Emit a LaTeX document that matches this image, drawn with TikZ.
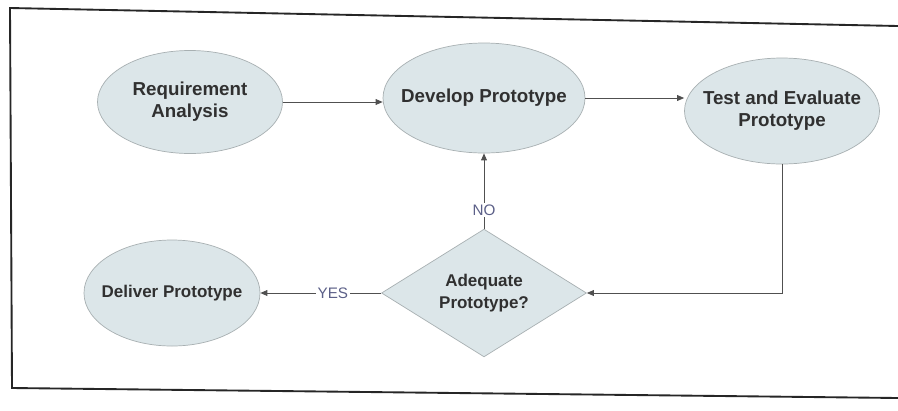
\documentclass[tikz,border=0pt]{standalone}
\usepackage{fontspec}
\setmainfont{Liberation Sans}
\usetikzlibrary{shapes.geometric,arrows.meta,calc}
\definecolor{nodefill}{HTML}{DCE6E9}
\definecolor{nodeline}{HTML}{A8B0B2}
\definecolor{labeltext}{HTML}{303030}
\definecolor{wire}{HTML}{505050}
\definecolor{answer}{HTML}{5C6088}
\begin{document}
\begin{tikzpicture}[x=0.03cm,y=-0.03cm,
  stage/.style={ellipse,draw=nodeline,fill=nodefill,line width=0.6pt,
    inner xsep=-25pt,inner ysep=0pt,
    align=center,font=\fontsize{16}{19}\selectfont\bfseries,text=labeltext},
  smallstage/.style={stage,font=\fontsize{14.5}{18}\selectfont\bfseries},
  decision/.style={diamond,draw=nodeline,fill=nodefill,line width=0.6pt,inner sep=0pt,
    align=center,font=\fontsize{14.5}{19}\selectfont\bfseries,text=labeltext},
  flow/.style={draw=wire,line width=0.7pt,-{Triangle[length=6pt,width=5pt]}},
  answertext/.style={font=\fontsize{13}{15}\selectfont,text=answer,fill=white,inner sep=1.5pt}]
\useasboundingbox (0,0) rectangle (898,410);
\fill[white] (0,0) rectangle (898,410);
% surrounding frame
\draw[line width=1.6pt,black!85] (898,26) -- (10,8) -- (12,388) -- (898,398);

% process stages
\node[stage,minimum width=5.55cm,minimum height=3.09cm] (req)  at (190,102) {Requirement\\Analysis};
\node[stage,minimum width=6.06cm,minimum height=3.3cm]  (dev)  at (484,98)  {Develop Prototype};
\node[stage,minimum width=5.85cm,minimum height=3.18cm] (test) at (782,111) {Test and Evaluate\\Prototype};
\node[smallstage,minimum width=5.28cm,minimum height=3.18cm] (del) at (172,293) {Deliver Prototype};
\node[decision,minimum width=6.15cm,minimum height=3.8cm] (adq) at (484,293) {Adequate\\Prototype?};

% connectors
\draw[flow] (req.east) -- (req.east -| dev.west);
\draw[flow] (dev.east) -- (dev.east -| test.west);
\draw[flow] (test.south) |- (adq.east);
\draw[flow] (adq.north) -- node[answertext,pos=0.25] {NO} (dev.south);
\draw[flow] (adq.west) -- node[answertext,pos=0.4] {YES} (del.east);
\end{tikzpicture}
\end{document}
